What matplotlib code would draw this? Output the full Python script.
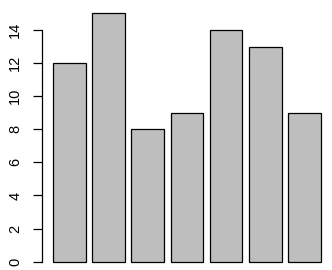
import matplotlib
matplotlib.use("Agg")
import matplotlib.pyplot as plt

values = [12, 15, 8, 9, 14, 13, 9]
yticks = [0, 2, 4, 6, 8, 10, 12, 14]

W, H = 332, 270
fig = plt.figure(figsize=(W / 100, H / 100), dpi=100)
left, right, top, bottom = 42.3, 331.4, 3.5, 270
ax = fig.add_axes([left / W, (H - bottom) / H, (right - left) / W, (bottom - top) / H])

n = len(values)
lefts = [0.2 + i * 1.2 for i in range(n)]
centers = [l + 0.5 for l in lefts]
ax.bar(centers, values, width=1.0, color="#BEBEBE", edgecolor="black", linewidth=0.9)

xmin, xmax = 0.2, 0.2 + n * 1.2 - 0.2
ext = 0.04 * (xmax - xmin)
ax.set_xlim(xmin - ext, xmax + ext)
ppu = (261.7 - 30.3) / 14
ymin = -(bottom - 261.7) / ppu
ymax = 15 + 0.04 * 15
ax.set_ylim(ymin, ymax)

for s in ["top", "right", "bottom"]:
    ax.spines[s].set_visible(False)
ax.spines["left"].set_bounds(yticks[0], yticks[-1])
ax.spines["left"].set_linewidth(0.9)
ax.set_xticks([])
ax.set_yticks(yticks)
ax.set_yticklabels([str(t) for t in yticks], family="Liberation Sans", fontsize=10.5,
                   rotation=90, va="center")
ax.tick_params(axis="y", length=6.5, width=0.9, pad=8)
ax.patch.set_visible(False)

fig.savefig("out.png", dpi=100)
